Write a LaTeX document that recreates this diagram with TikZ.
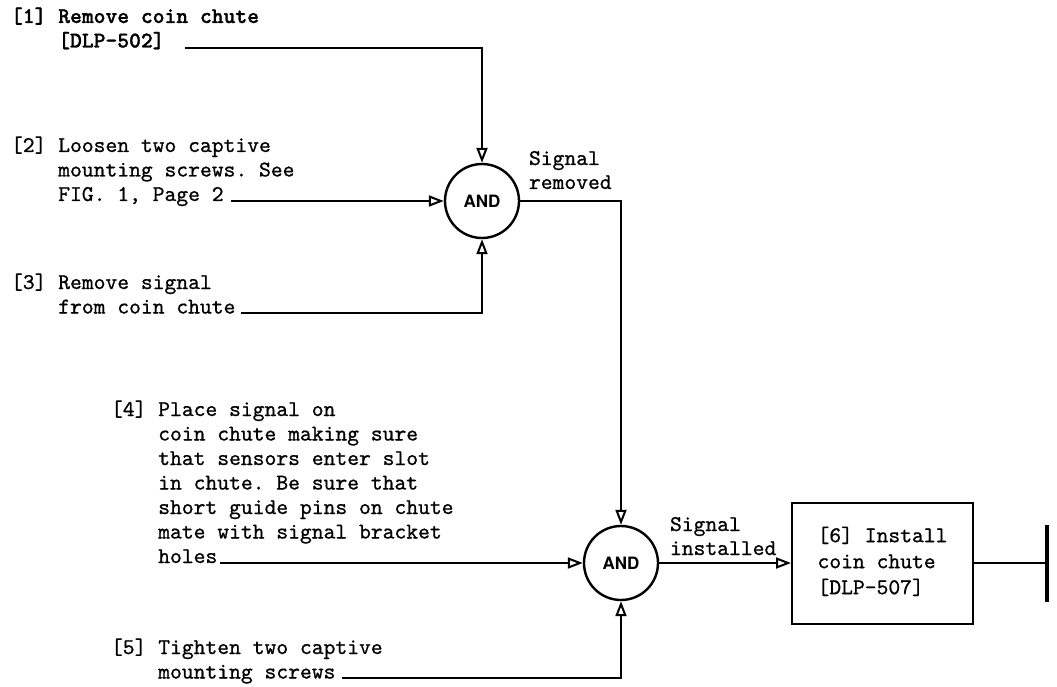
\documentclass[tikz,border=0pt]{standalone}
\usepackage{fontspec}
\usepackage{tikz}
\usetikzlibrary{arrows.meta}
\newfontfamily\gatefont{TeX Gyre Heros}
\newfontfamily\stepfont{lmmono10-regular.otf}[FakeBold=0.8]
\newfontfamily\boldstepfont{lmmonolt10-bold.otf}[FakeBold=1.2]
\newcommand{\ind}{\hspace*{47.25pt}}
\newcommand{\block}[1]{\begin{tabular}[t]{@{}l@{}}#1\end{tabular}}

\begin{document}
\begin{tikzpicture}[x=1pt,y=-1pt,line width=2pt,
    steptext/.style={anchor=base west,inner sep=0pt,
        font=\stepfont\frenchspacing\fontsize{22.5}{24.5}\selectfont},
    siglabel/.style={anchor=base west,inner sep=0pt,
        font=\stepfont\fontsize{22.5}{24}\selectfont},
    gate/.style={circle,draw,line width=2.4pt,minimum size=74pt,inner sep=0pt,
        font=\gatefont\bfseries\fontsize{17}{17}\selectfont},
    taskbox/.style={draw,minimum width=181pt,minimum height=121pt,inner sep=0pt,
        font=\stepfont\fontsize{22.5}{26}\selectfont},
    flow/.style={-{Triangle[open,length=15pt,width=11pt]}}]
    \useasboundingbox (0,0) rectangle (1057,687);

    % steps
    \node[steptext,font=\boldstepfont\fontsize{22.5}{24.5}\selectfont] (step1) at (10,23)
        {\block{[1] Remove coin chute\\\ind[DLP-502]}};
    \node[steptext] (step2) at (10,152)
        {\block{[2] Loosen two captive\\\ind mounting screws. See\\\ind FIG. 1, Page 2}};
    \node[steptext] (step3) at (10,289)
        {\block{[3] Remove signal\\\ind from coin chute}};
    \node[steptext] (step4) at (110,416)
        {\block{[4] Place signal on\\\ind coin chute making sure\\\ind that sensors enter slot\\\ind in chute. Be sure that\\\ind short guide pins on chute\\\ind mate with signal bracket\\\ind holes}};
    \node[steptext] (step5) at (110,654)
        {\block{[5] Tighten two captive\\\ind mounting screws}};

    % gates and box
    \node[gate] (and1) at (482,201) {AND};
    \node[gate] (and2) at (621,563) {AND};
    \node[taskbox] (step6) at (882.5,563) {\begin{tabular}{@{}l@{}}[6] Install\\coin chute\\{}[DLP-507]\end{tabular}};

    \node[siglabel] (removed) at (528,165) {\block{Signal\\removed}};
    \node[siglabel] (installed) at (669,531) {\block{Signal\\installed}};

    % line ends
    \coordinate (s1) at (185,48);
    \coordinate (s2) at (231,201);
    \coordinate (s3) at (241,313);
    \coordinate (s4) at (220,563);
    \coordinate (s5) at (342,678);
    \coordinate (barmid) at (1047,563);
    \coordinate (bartop) at (1047,525);
    \coordinate (barbot) at (1047,602);

    \draw[flow] (s1) -| (and1.north);
    \draw[flow] (s2) -- (and1.west);
    \draw[flow] (s3) -| (and1.south);
    \draw[flow] (and1.east) -| (and2.north);
    \draw[flow] (s4) -- (and2.west);
    \draw[flow] (s5) -| (and2.south);
    \draw[flow] (and2.east) -- (step6.west);
    \draw (step6.east) -- (barmid);
    \draw[line width=4pt] (bartop) -- (barbot);
\end{tikzpicture}
\end{document}
